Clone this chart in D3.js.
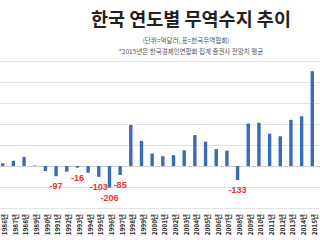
<!DOCTYPE html>
<html>
<head>
<meta charset="utf-8">
<script src="https://cdn.jsdelivr.net/npm/d3@7"></script>
<style>
  html, body { margin: 0; padding: 0; background: #fff; }
  svg { display: block; }
</style>
</head>
<body>
<div id="chart"></div>
<script>
const years = [1986, 1987, 1988, 1989, 1990, 1991, 1992, 1993, 1994, 1995,
  1996, 1997, 1998, 1999, 2000, 2001, 2002, 2003, 2004, 2005,
  2006, 2007, 2008, 2009, 2010, 2011, 2012, 2013, 2014, 2015];
const balance = [25, 50, 85, 5, -48, -97, -54, -16, -64, -103,
  -206, -85, 390, 239, 118, 93, 103, 150, 294, 232,
  161, 146, -133, 404, 412, 308, 283, 440, 474, 903];
const labelledYears = [1991, 1993, 1995, 1996, 1997, 2008];
const gridTicks = [-400, -200, 0, 200, 400, 600, 800, 1000];

const title = '한국 연도별 무역수지 추이';
const subtitle1 = '(단위=억달러, 표=한국무역협회)';
const subtitle2 = '*2015년은 한국경제인연합회 집계 증권사 전망치 평균';

const width = 320;
const height = 240;

const svg = d3.select('#chart')
  .append('svg')
  .attr('width', width)
  .attr('height', height)
  .attr('viewBox', [0, 0, width, height])

const data = years.map((yr, i) => ({ year: yr, value: balance[i] }));

const x = d3.scalePoint()
  .domain(years)
  .range([-2.64, 317.64])
  .padding(0.5)

const y = d3.scaleLinear()
  .domain([-400, 1000])
  .range([208, 61])

// gridlines
svg.append('g')
  .selectAll('line')
  .data(gridTicks)
  .enter()
  .append('line')
  .attr('x1', 0)
  .attr('x2', width)
  .attr('y1', d => y(d) + 0.5)
  .attr('y2', d => y(d) + 0.5)
  .attr('stroke', d => d === 0 ? '#d0d0d0' : '#e2e2e2')
  .attr('stroke-width', 1)

const barW = 3.4;

svg.append('g')
  .selectAll('rect')
  .data(data)
  .enter()
  .append('rect')
  .attr('x', d => x(d.year) - barW / 2)
  .attr('y', d => y(Math.max(0, d.value)))
  .attr('width', barW)
  .attr('height', d => Math.abs(y(d.value) - y(0)))
  .attr('fill', '#3a6bb5')

svg.append('g')
  .selectAll('text')
  .data(data.filter(d => labelledYears.includes(d.year)))
  .enter()
  .append('text')
  .attr('x', d => x(d.year))
  .attr('y', d => y(d.value) + 13)
  .attr('text-anchor', 'middle')
  .attr('font-family', 'Liberation Sans, Arial, sans-serif')
  .attr('font-size', 9)
  .attr('font-weight', 'bold')
  .attr('fill', '#e8332b')
  .text(d => d.value)

// x axis labels, rotated
const xAxisG = svg.append('g')
  .attr('transform', 'translate(0, 214)')

xAxisG.call(d3.axisBottom(x).tickSize(0).tickFormat(d => d + '년'))
xAxisG.select('.domain').remove()
xAxisG.selectAll('text')
  .attr('transform', 'rotate(-90)')
  .attr('x', 0)
  .attr('y', 0)
  .attr('dx', 0)
  .attr('dy', '0.6em')
  .attr('text-anchor', 'end')
  .attr('font-family', 'Noto Sans CJK KR, sans-serif')
  .attr('font-size', 6.5)
  .attr('font-weight', 'bold')
  .attr('fill', '#2a2a2a')

svg.append('text')
  .attr('x', 191)
  .attr('y', 26)
  .attr('text-anchor', 'middle')
  .attr('font-family', 'Noto Sans CJK KR, sans-serif')
  .attr('font-size', 18.5)
  .attr('font-weight', 'bold')
  .attr('fill', '#222')
  .text(title)

svg.append('text')
  .attr('x', 186)
  .attr('y', 42.5)
  .attr('text-anchor', 'middle')
  .attr('font-family', 'Noto Sans CJK KR, sans-serif')
  .attr('font-size', 6.5)
  .attr('fill', '#555')
  .text(subtitle1)

svg.append('text')
  .attr('x', 191)
  .attr('y', 54)
  .attr('text-anchor', 'middle')
  .attr('font-family', 'Noto Sans CJK KR, sans-serif')
  .attr('font-size', 6.5)
  .attr('fill', '#555')
  .text(subtitle2)
</script>
</body>
</html>
